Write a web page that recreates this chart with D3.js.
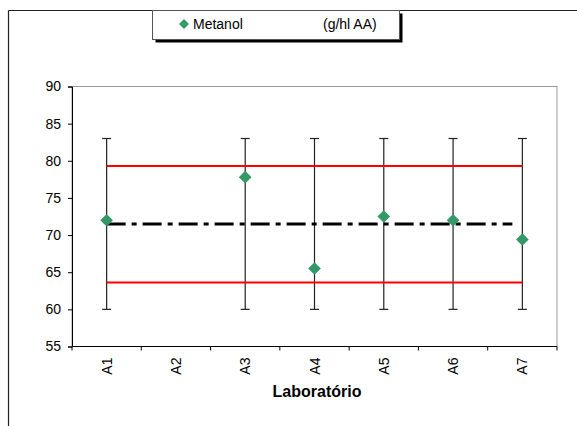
<!DOCTYPE html>
<html>
<head>
<meta charset="utf-8">
<script src="https://cdn.jsdelivr.net/npm/d3@7"></script>
<style>
  body { margin: 0; background: #fff; }
  text { font-family: "Liberation Sans", Arial, sans-serif; }
</style>
</head>
<body>
<svg id="chart"></svg>
<script>
const width = 577;
const height = 426;

const labs = ["A1", "A2", "A3", "A4", "A5", "A6", "A7"];
const metanol = [72.0, null, 77.8, 65.5, 72.5, 72.0, 69.4];
const errLow = [60, null, 60, 60, 60, 60, 60];
const errHigh = [83, null, 83, 83, 83, 83, 83];
const upperLimit = 79.3;
const lowerLimit = 63.6;
const meanValue = 71.5;
const yTicks = [55, 60, 65, 70, 75, 80, 85, 90];

const svg = d3.select("#chart").attr("width", width).attr("height", height);

// outer frame (only top and left edges visible)
svg.append("line").attr("x1", 8.5).attr("x2", width).attr("y1", 10.5).attr("y2", 10.5)
  .attr("stroke", "#222").attr("stroke-width", 1.2);
svg.append("line").attr("x1", 8.5).attr("x2", 8.5).attr("y1", 10.5).attr("y2", height)
  .attr("stroke", "#222").attr("stroke-width", 1.2);

const x = d3.scaleBand().domain(labs).range([72, 557]);
const y = d3.scaleLinear().domain([55, 90]).range([346.5, 86.5]);

// plot area border (gray)
svg.append("rect")
  .attr("x", 72).attr("y", 86.5).attr("width", 557 - 72).attr("height", 346.5 - 86.5)
  .attr("fill", "none").attr("stroke", "#999").attr("stroke-width", 1);

// y axis
const yAxis = svg.append("g").attr("transform", "translate(72,0)")
  .call(d3.axisLeft(y).tickValues(yTicks).tickSize(4).tickPadding(7));
yAxis.select(".domain").attr("stroke", "#000");
yAxis.selectAll("text").attr("font-size", 14).attr("fill", "#000");

// x axis: ticks at category boundaries
const xAxis = svg.append("g").attr("transform", "translate(0,346.5)");
xAxis.append("line").attr("x1", 72).attr("x2", 557).attr("stroke", "#000");
const bounds = labs.map(d => x(d)).concat([x.range()[1]]);
xAxis.selectAll(".bt").data(bounds).enter().append("line")
  .attr("x1", d => d).attr("x2", d => d).attr("y1", 0).attr("y2", 4)
  .attr("stroke", "#000");
xAxis.selectAll(".lab").data(labs).enter().append("text")
  .attr("transform", d => `translate(${x(d) + x.bandwidth() / 2 + 5},11) rotate(-90)`)
  .attr("text-anchor", "end")
  .attr("font-size", 14)
  .text(d => d);

svg.append("text")
  .attr("x", 317).attr("y", 397)
  .attr("text-anchor", "middle")
  .attr("font-size", 16).attr("font-weight", "bold")
  .text("Laboratório");

const cx = d => x(d) + x.bandwidth() / 2;
const x0 = cx(labs[0]);
const x1 = cx(labs[labs.length - 1]);

// error bars
const eb = labs.map((d, i) => ({ lab: d, lo: errLow[i], hi: errHigh[i] })).filter(d => d.lo != null);
const ebg = svg.append("g");
ebg.selectAll(".v").data(eb).enter().append("line")
  .attr("x1", d => cx(d.lab)).attr("x2", d => cx(d.lab))
  .attr("y1", d => y(d.lo)).attr("y2", d => y(d.hi))
  .attr("stroke", "#222").attr("stroke-width", 1.2);
["lo", "hi"].forEach(k => {
  ebg.selectAll(".c" + k).data(eb).enter().append("line")
    .attr("x1", d => cx(d.lab) - 4.5).attr("x2", d => cx(d.lab) + 4.5)
    .attr("y1", d => y(d[k])).attr("y2", d => y(d[k]))
    .attr("stroke", "#222").attr("stroke-width", 1.2);
});

// limit lines
[upperLimit, lowerLimit].forEach(v => {
  svg.append("line").attr("x1", x0).attr("x2", x1).attr("y1", y(v)).attr("y2", y(v))
    .attr("stroke", "#ff0000").attr("stroke-width", 2);
});
svg.append("line").attr("x1", x0).attr("x2", x1 - 10).attr("y1", y(meanValue)).attr("y2", y(meanValue))
  .attr("stroke", "#000").attr("stroke-width", 3)
  .attr("stroke-dasharray", "19,6,5,6");

// points
const pts = labs.map((d, i) => ({ lab: d, v: metanol[i] })).filter(d => d.v != null);
const diamond = d3.symbol().type(d3.symbolSquare).size(80);
svg.selectAll(".pt").data(pts).enter().append("path")
  .attr("d", diamond)
  .attr("transform", d => `translate(${cx(d.lab)},${y(d.v)}) rotate(45)`)
  .attr("fill", "#339966");

// legend
const lg = svg.append("g");
lg.append("rect").attr("x", 155.5).attr("y", 13.5).attr("width", 247).attr("height", 29).attr("fill", "#000");
lg.append("rect").attr("x", 152.5).attr("y", 10.5).attr("width", 247).attr("height", 29)
  .attr("fill", "#fff").attr("stroke", "#555").attr("stroke-width", 1);
lg.append("path").attr("d", d3.symbol().type(d3.symbolSquare).size(50))
  .attr("transform", "translate(184,24) rotate(45)").attr("fill", "#339966");
lg.append("text").attr("x", 193).attr("y", 29).attr("font-size", 14).text("Metanol");
lg.append("text").attr("x", 323).attr("y", 29).attr("font-size", 14).text("(g/hl AA)");
</script>
</body>
</html>
